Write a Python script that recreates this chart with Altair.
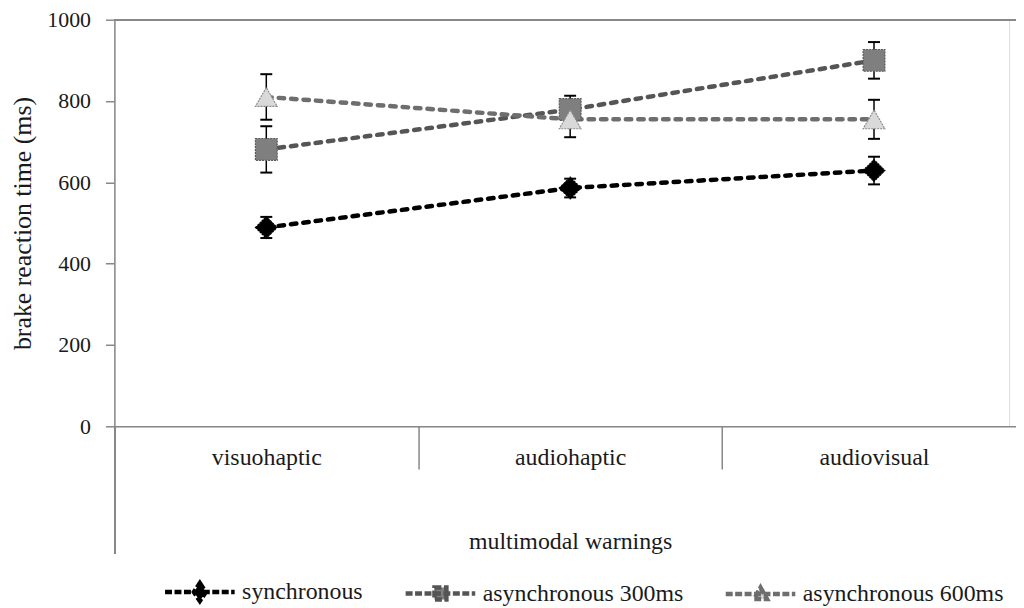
import altair as alt
import pandas as pd

# ---------------- data ----------------
categories = ["visuohaptic", "audiohaptic", "audiovisual"]
series = ["synchronous", "asynchronous 300ms", "asynchronous 600ms"]

sync_mean = [489, 586, 629]
sync_err = [26, 23, 34]
a300_mean = [681, 779, 900]
a300_err = [57, 34, 45]
a600_mean = [810, 755, 755]
a600_err = [56, 44, 48]

y_ticks = [0, 200, 400, 600, 800, 1000]

means = [sync_mean, a300_mean, a600_mean]
errs = [sync_err, a300_err, a600_err]
rows = []
for s, m_list, e_list in zip(series, means, errs):
    for c, m, e in zip(categories, m_list, e_list):
        rows.append({"category": c, "series": s, "mean": m, "err": e})
df = pd.DataFrame(rows)

# ---------------- styles ----------------
FONT = "Liberation Serif"
TXT = "#1a1a1a"
GRAY = "#888888"
line_colors = ["#000000", "#555555", "#6e6e6e"]
marker_fill = ["#000000", "#7f7f7f", "#d9d9d9"]
marker_stroke = ["#000000", "#5a5a5a", "#8c8c8c"]

W, H = 900, 409
X_EXT = 917

legend_paths = [
    "M-3.5,0L3.5,0M0,-0.9L0.6,0L0,0.9L-0.6,0Z",
    "M-3.5,0L3.5,0M-0.6,-0.6L0.6,-0.6L0.6,0.6L-0.6,0.6Z",
    "M-3.5,0L3.5,0M0,-0.65L0.65,0.5L-0.65,0.5Z",
]

xscale = alt.Scale(domain=categories, paddingInner=0, paddingOuter=0, range=[0, X_EXT])
yscale = alt.Scale(domain=[0, 1000], nice=False, zero=True)

xaxis = alt.Axis(
    title="multimodal warnings", labelAngle=0, labelFont=FONT, labelFontSize=24,
    labelColor=TXT, labelPadding=-24, tickBand="extent", tickSize=43,
    tickColor=GRAY, tickWidth=1.5, domainColor=GRAY, domainWidth=1.5,
    titleFont=FONT, titleFontSize=24, titleFontWeight="normal", titleColor=TXT,
    titlePadding=60, grid=False,
)
yaxis = alt.Axis(
    title="brake reaction time (ms)", values=y_ticks, format="d", tickSize=9,
    tickColor=GRAY, tickWidth=1.5, domainColor=GRAY, domainWidth=1.5,
    labelFont=FONT, labelFontSize=22, labelColor=TXT, labelPadding=15,
    titleFont=FONT, titleFontSize=26, titleFontWeight="normal", titleColor=TXT,
    titlePadding=11, grid=False,
)


def X():
    return alt.X("category:N", sort=categories, scale=xscale, axis=xaxis)


def Y(field):
    return alt.Y(field, scale=yscale, axis=yaxis)


base = alt.Chart(df).transform_calculate(
    lo="datum.mean - datum.err", hi="datum.mean + datum.err"
)

lines = base.mark_line(strokeWidth=4.5, strokeDash=[5.5, 7], strokeCap="round").encode(
    x=X(), y=Y("mean:Q"),
    color=alt.Color("series:N", scale=alt.Scale(domain=series, range=line_colors), legend=None),
)

err_rule = base.mark_rule(color="black", strokeWidth=1.5).encode(
    x=X(), y=Y("lo:Q"), y2="hi:Q"
)
cap_lo = base.mark_tick(color="black", thickness=2, size=12, opacity=1).encode(x=X(), y=Y("lo:Q"))
cap_hi = base.mark_tick(color="black", thickness=2, size=12, opacity=1).encode(x=X(), y=Y("hi:Q"))

points = base.mark_point(filled=True, size=480, opacity=1, strokeWidth=1.2, strokeDash=[2, 1]).encode(
    x=X(), y=Y("mean:Q"),
    shape=alt.Shape("series:N", scale=alt.Scale(domain=series, range=["diamond", "square", "triangle-up"]), legend=None),
    fill=alt.Fill("series:N", scale=alt.Scale(domain=series, range=marker_fill), legend=None),
    stroke=alt.Stroke("series:N", scale=alt.Scale(domain=series, range=marker_stroke), legend=None),
)

leg = alt.Legend(
    title=None, orient="none", legendX=73.5, legendY=563, direction="horizontal",
    symbolSize=400, symbolStrokeWidth=4.5, symbolDash=[7, 2.5], symbolOpacity=1,
    labelFont=FONT, labelFontSize=24, labelColor=TXT, labelOffset=30, labelLimit=0,
    columnPadding=33, padding=0,
)
legend_layer = base.transform_filter("datum.mean < 0").mark_point(
    filled=True, size=400, opacity=1
).encode(
    x=X(), y=Y("mean:Q"),
    shape=alt.Shape("series:N", scale=alt.Scale(domain=series, range=legend_paths), legend=leg),
    fill=alt.Fill("series:N", scale=alt.Scale(domain=series, range=marker_fill), legend=leg),
    stroke=alt.Stroke("series:N", scale=alt.Scale(domain=series, range=line_colors), legend=leg),
)

top_rule = alt.Chart(df).mark_rule(color=GRAY, strokeWidth=1.5).encode(
    y=alt.datum(1000, scale=yscale), x=alt.value(0), x2=alt.value(X_EXT)
)
axis_ext = alt.Chart(df).mark_rule(color=GRAY, strokeWidth=1.5).encode(
    x=alt.value(0.5), y=alt.value(H), y2=alt.value(H + 128)
)

chart = alt.layer(
    top_rule, axis_ext, lines, err_rule, cap_lo, cap_hi, points, legend_layer
).resolve_scale(
    shape="independent", fill="independent", stroke="independent"
).properties(
    width=W, height=H,
    autosize=alt.AutoSizeParams(type="none"),
    padding={"left": 107, "top": 10, "right": 7, "bottom": 179},
).configure_view(stroke=None).configure(font=FONT)

chart.save("out.html", embed_options={"renderer": "svg", "actions": False})
